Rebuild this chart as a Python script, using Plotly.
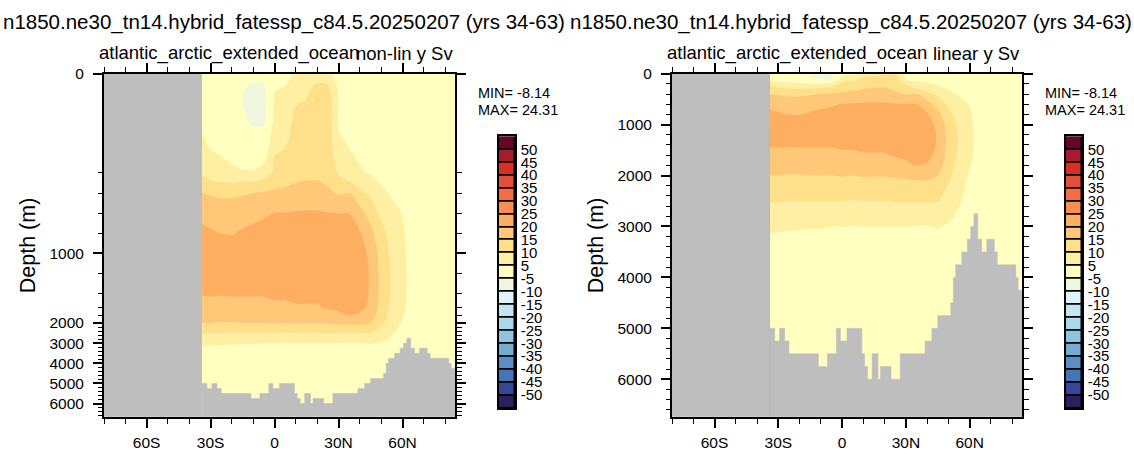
import numpy as np
import plotly.graph_objects as go

W, H = 1134, 456
FONT = "Liberation Sans, Arial, Helvetica, sans-serif"

title_text = "n1850.ne30_tn14.hybrid_fatessp_c84.5.20250207 (yrs 34-63)"
region_text = "atlantic_arctic_extended_ocean"
panel_tags = ["non-lin y Sv", "linear y Sv"]
min_text = "MIN= -8.14"
max_text = "MAX= 24.31"

# overturning streamfunction (Sv), one row per latitude, columns follow `depth`
lat = [-34, -30, -25, -20, -15, -10, -5, 0, 5, 10, 15, 20, 25, 30, 35, 40, 45,
       50, 55, 60, 65, 70, 75, 80, 85]
depth = [0, 25, 50, 100, 150, 200, 300, 400, 600, 800, 1000, 1200, 1400, 1600,
         1800, 2000, 2500, 3000, 3500, 4000, 5000, 6000, 6750]
psi_by_lat = [
    [2.0, 2.5, 3.0, 4.5, 6.0, 9.5, 12.0, 15.0, 19.0, 21.0, 22.0, 21.5, 20.3, 18.5, 16.5, 15.0, 10.2, 5.8, 3.0, 2.0, 1.0, 0.5, 0.5],
    [2.0, 2.5, 3.0, 3.5, 4.8, 7.5, 11.0, 14.5, 18.5, 20.5, 22.5, 22.0, 20.5, 18.5, 16.5, 15.0, 10.2, 5.6, 3.0, 2.0, 1.0, 0.5, 0.5],
    [2.0, 2.5, 3.0, 3.5, 4.5, 6.0, 10.5, 14.0, 18.0, 20.0, 22.5, 22.0, 20.3, 18.5, 16.5, 14.8, 10.0, 5.4, 3.0, 2.0, 1.0, 0.5, 0.5],
    [1.5, 2.0, 2.5, 3.0, 4.0, 5.5, 10.0, 14.0, 18.0, 19.8, 22.5, 22.5, 20.5, 18.5, 16.5, 14.8, 10.0, 5.3, 3.0, 2.0, 1.0, 0.5, 0.5],
    [-1.0, -3.5, -5.3, -3.5, 2.0, 5.5, 10.5, 14.5, 18.5, 20.5, 23.0, 23.0, 20.5, 18.5, 16.5, 15.0, 10.0, 5.2, 3.0, 2.0, 1.0, 0.5, 0.5],
    [-2.0, -6.5, -8.1, -6.0, 1.0, 5.5, 11.0, 15.0, 19.0, 21.0, 23.2, 23.0, 20.5, 18.5, 16.5, 15.0, 10.0, 5.2, 3.0, 2.0, 1.0, 0.5, 0.5],
    [-1.5, -5.5, -7.0, -5.5, 1.5, 7.5, 12.0, 15.5, 19.5, 21.5, 23.5, 23.0, 20.5, 18.5, 16.5, 15.0, 10.0, 5.0, 3.0, 2.0, 1.0, 0.5, 0.5],
    [3.0, 4.5, 5.5, 7.5, 9.5, 11.0, 13.5, 16.0, 20.2, 22.0, 23.8, 23.5, 21.0, 19.0, 17.0, 15.2, 10.0, 5.0, 3.0, 2.0, 1.0, 0.5, 0.5],
    [4.0, 5.0, 6.5, 8.5, 10.0, 11.5, 14.0, 16.5, 20.3, 22.5, 24.0, 23.5, 21.0, 19.0, 17.0, 15.0, 9.8, 4.9, 3.0, 2.0, 1.0, 0.5, 0.5],
    [5.5, 7.5, 9.5, 11.0, 12.0, 13.5, 15.0, 17.0, 20.5, 22.5, 24.2, 23.5, 21.5, 19.5, 17.0, 15.3, 10.0, 5.0, 3.0, 2.0, 1.0, 0.5, 0.5],
    [6.0, 8.5, 10.0, 12.0, 13.0, 13.5, 15.5, 17.5, 20.5, 23.0, 24.3, 23.5, 21.5, 19.5, 17.0, 15.2, 10.0, 5.0, 3.0, 2.0, 1.0, 0.5, 0.5],
    [6.5, 11.0, 15.2, 14.0, 13.0, 13.5, 15.5, 17.5, 20.5, 23.0, 24.31, 23.5, 21.5, 19.5, 17.0, 15.2, 10.0, 5.0, 3.0, 2.0, 1.0, 0.5, 0.5],
    [6.0, 10.5, 12.5, 13.0, 13.0, 13.5, 14.5, 16.0, 20.3, 22.8, 24.0, 23.5, 22.0, 20.5, 18.0, 15.5, 10.2, 5.0, 3.0, 2.0, 1.0, 0.5, 0.5],
    [3.0, 4.0, 4.5, 4.5, 6.0, 9.5, 12.0, 14.5, 20.1, 22.5, 24.0, 23.5, 22.5, 21.0, 19.0, 15.8, 10.2, 5.0, 3.0, 2.0, 1.0, 0.5, 0.5],
    [2.0, 3.0, 3.5, 4.0, 5.0, 6.5, 10.5, 15.0, 20.1, 21.5, 23.5, 23.5, 22.5, 21.5, 20.2, 16.0, 10.2, 4.8, 3.0, 2.0, 1.0, 0.5, 0.5],
    [1.5, 2.0, 2.5, 3.0, 4.0, 5.5, 8.0, 11.5, 17.0, 20.5, 22.5, 22.5, 22.0, 21.0, 19.5, 16.0, 10.2, 4.8, 3.0, 2.0, 1.0, 0.5, 0.5],
    [1.0, 1.5, 2.0, 3.0, 3.5, 4.5, 6.5, 9.0, 13.0, 16.5, 18.5, 19.5, 19.5, 19.0, 17.5, 15.0, 10.0, 5.2, 3.0, 2.0, 1.0, 0.5, 0.5],
    [0.5, 1.0, 1.5, 2.0, 2.5, 3.0, 4.7, 6.0, 9.0, 11.5, 13.0, 13.5, 13.5, 13.0, 12.0, 11.0, 8.0, 4.5, 2.5, 1.5, 1.0, 0.5, 0.5],
    [0.5, 0.5, 1.0, 1.5, 2.0, 2.5, 3.5, 4.5, 6.5, 8.0, 9.0, 9.5, 9.5, 9.0, 8.5, 7.5, 5.5, 3.5, 2.0, 1.5, 1.0, 0.5, 0.5],
    [0.5, 0.5, 0.5, 1.0, 1.5, 2.0, 2.5, 3.5, 4.8, 5.5, 5.8, 6.0, 6.0, 5.8, 5.3, 4.5, 3.0, 2.0, 1.5, 1.0, 0.5, 0.5, 0.5],
    [0.5, 0.5, 0.5, 1.0, 1.0, 1.5, 2.0, 2.5, 3.0, 3.2, 3.3, 3.3, 3.2, 3.0, 2.8, 2.5, 2.0, 1.5, 1.0, 1.0, 0.5, 0.5, 0.5],
    [0.5, 0.5, 0.5, 0.5, 0.5, 1.0, 1.0, 1.5, 1.5, 1.5, 1.5, 1.5, 1.5, 1.5, 1.5, 1.5, 1.0, 1.0, 0.5, 0.5, 0.5, 0.5, 0.5],
    [0.5, 0.5, 0.5, 0.5, 0.5, 0.5, 1.0, 1.0, 1.0, 1.0, 1.0, 1.0, 1.0, 1.0, 1.0, 1.0, 0.5, 0.5, 0.5, 0.5, 0.5, 0.5, 0.5],
    [0.5, 0.5, 0.5, 0.5, 0.5, 0.5, 0.5, 0.5, 0.5, 0.5, 0.5, 0.5, 0.5, 0.5, 0.5, 0.5, 0.5, 0.5, 0.5, 0.5, 0.5, 0.5, 0.5],
    [0.5, 0.5, 0.5, 0.5, 0.5, 0.5, 0.5, 0.5, 0.5, 0.5, 0.5, 0.5, 0.5, 0.5, 0.5, 0.5, 0.5, 0.5, 0.5, 0.5, 0.5, 0.5, 0.5],
]

# sea floor (m), step edges in latitude
bathy_edges = [-34, -31.7, -29.4, -27.0, -25.0, -11.1, -6.9, -2.7, -0.8, 2.3, 9.3,
               10.6, 12.0, 14.1, 16.9, 18.0, 23.0, 27.3, 39.0, 42.2, 45.0, 51.1,
               52.3, 53.4, 56.3, 58.9, 60.5, 62.0, 63.8, 65.6, 68.0, 71.6, 73.0,
               81.7, 82.8, 86]
bathy_depth = [5000, 5250, 5000, 5250, 5500, 5750, 5500, 5000, 5250, 5000, 5500,
               5750, 6000, 5500, 6000, 5750, 6000, 5500, 5250, 5000, 4750, 4500,
               4000, 3750, 3500, 3250, 3000, 2750, 3250, 3500, 3250, 3500, 3750,
               4000, 4250]

# label bar, bottom to top
box_colors = ["#2C1F5E", "#36479A", "#4575B4", "#5B8EC3", "#74ADD1", "#90C3DD",
              "#ABD9E9", "#C5E6F0", "#E0F3F8", "#EFF8DF", "#FFFFBF", "#FEEFA2",
              "#FEE08B", "#FEC878", "#FDAE61", "#F88E52", "#F46D43", "#E3503A",
              "#D73027", "#A51C2D", "#67042A"]
box_labels = ["-50", "-45", "-40", "-35", "-30", "-25", "-20", "-15", "-10", "-5",
              "5", "10", "15", "20", "25", "30", "35", "40", "45", "50"]

lat_ticks = [-60, -30, 0, 30, 60]
lat_ticktext = ["60S", "30S", "0", "30N", "60N"]
depth_ticks = [0, 1000, 2000, 3000, 4000, 5000, 6000]

# stretched depth axis of the left panel (depth -> offset from top, px)
warp_depth = [0, 200, 400, 600, 800, 1000, 1200, 1400, 1600, 1800, 2000, 3000, 4000, 5000, 6000, 6660]
warp_pos = [0, 101, 122, 143, 163, 183.3, 204, 224, 238.3, 246.3, 254.3, 275, 295.5, 316, 336.5, 350]


def warp(d):
    return np.interp(d, warp_depth, warp_pos)


def linear(d):
    return np.asarray(d, dtype=float)


# contour bands: -50..50 every 5, the two bands around zero share one colour
band_colors = box_colors[:11] + [box_colors[10]] + box_colors[11:]
nb = len(band_colors)
colorscale = []
for k, c in enumerate(band_colors):
    lo = max(0.0, (k - 0.5) / (nb - 1))
    hi = min(1.0, (k + 0.5) / (nb - 1))
    colorscale += [[lo, c], [hi, c]]

z = np.array(psi_by_lat).T

fig = go.Figure()

# plot-area boxes in pixels
panels = [dict(x=(104, 455), cb=(499, 515), tf=warp, ybot=6660, tag=panel_tags[0]),
          dict(x=(672, 1022), cb=(1066, 1082), tf=linear, ybot=6737, tag=panel_tags[1])]
PY = (66, 416)
CBY = (130, 407)


def fx(px):
    return px / W


def fy(py):
    return 1 - py / H


tick_font = dict(family=FONT, size=15.5, color="black")
minor_lat = [v for v in range(-80, 81, 10) if v not in lat_ticks]
minor_depth = [v for v in range(200, 6700, 200) if v not in depth_ticks]

annotations = []
for i, p in enumerate(panels):
    n = 2 * i + 1
    xa = "x" if n == 1 else "x%d" % n
    ya = "y" if n == 1 else "y%d" % n
    xb = "x%d" % (n + 1)
    yb = "y%d" % (n + 1)
    tf = p["tf"]

    fig.add_trace(go.Contour(
        x=lat, y=tf(depth), z=z, xaxis=xa, yaxis=ya,
        autocontour=False,
        contours=dict(start=-50, end=50, size=5, coloring="fill", showlines=False),
        colorscale=colorscale, showscale=False, line=dict(width=0),
        hoverinfo="skip",
    ))

    # land below the sea floor
    px_, py_ = [], []
    for j, d in enumerate(bathy_depth):
        px_ += [bathy_edges[j], bathy_edges[j + 1]]
        py_ += [d, d]
    px_ += [bathy_edges[-1], bathy_edges[0]]
    py_ += [p["ybot"] + 200, p["ybot"] + 200]
    fig.add_trace(go.Scatter(
        x=px_, y=tf(py_), xaxis=xa, yaxis=ya, mode="lines", fill="toself",
        fillcolor="#BEBEBE", line=dict(color="#BEBEBE", width=0.5),
        hoverinfo="skip", showlegend=False,
    ))

    # label bar
    fig.add_trace(go.Bar(
        x=[0] * len(box_colors), y=[1] * len(box_colors),
        base=list(range(len(box_colors))), width=1,
        marker=dict(color=box_colors, line=dict(color="black", width=1.5)),
        xaxis=xb, yaxis=yb, hoverinfo="skip", showlegend=False,
    ))

    axis_common = dict(showline=True, linecolor="black", linewidth=2, mirror="ticks",
                       ticks="outside", tickcolor="black", tickwidth=2, ticklen=9,
                       showgrid=False, zeroline=False, tickfont=tick_font)
    fig.layout[("xaxis" if n == 1 else "xaxis%d" % n)] = dict(
        axis_common, domain=[fx(p["x"][0]), fx(p["x"][1])], anchor=ya,
        range=[-80, 84.6], tickmode="array", tickvals=lat_ticks, ticktext=lat_ticktext,
        minor=dict(tickvals=minor_lat, ticklen=5, tickwidth=1.2, tickcolor="black", ticks="outside"),
        ticklabelstandoff=2,
    )
    fig.layout[("yaxis" if n == 1 else "yaxis%d" % n)] = dict(
        axis_common, domain=[fy(PY[1]), fy(PY[0])], anchor=xa,
        range=[float(tf(p["ybot"])), 0], tickmode="array",
        tickvals=list(tf(depth_ticks)), ticktext=[str(v) for v in depth_ticks],
        minor=dict(tickvals=list(tf(minor_depth)), ticklen=4.5, tickwidth=1.2,
                   tickcolor="black", ticks="outside"),
        ticklabelstandoff=6,
    )
    fig.layout["xaxis%d" % (n + 1)] = dict(
        domain=[fx(p["cb"][0]), fx(p["cb"][1])], anchor=yb, range=[-0.5, 0.5],
        showticklabels=False, ticks="", showgrid=False, zeroline=False,
        showline=True, linecolor="black", linewidth=1.5, mirror=True, fixedrange=True,
    )
    fig.layout["yaxis%d" % (n + 1)] = dict(
        domain=[fy(CBY[1]), fy(CBY[0])], anchor=xb, range=[0, len(box_colors)],
        side="right", tickmode="array", tickvals=list(range(1, len(box_colors))),
        ticktext=box_labels, ticks="", showgrid=False, zeroline=False,
        showline=True, linecolor="black", linewidth=1.5, mirror=True,
        tickfont=dict(family=FONT, size=15, color="black"), ticklabelstandoff=1,
    )

    cx = (p["x"][0] + p["x"][1]) / 2
    annotations += [
        dict(text=title_text, x=fx(cx + 4), y=fy(13), xanchor="center", yanchor="middle",
             font=dict(family=FONT, size=20.5, color="black")),
        dict(text=region_text, x=fx(p["x"][0] - 7), y=fy(45), xanchor="left", yanchor="middle",
             font=dict(family=FONT, size=18.5, color="black")),
        dict(text=p["tag"], x=fx(p["x"][1]), y=fy(45), xanchor="right", yanchor="middle",
             font=dict(family=FONT, size=18.5, color="black")),
        dict(text=min_text, x=fx(p["x"][1] + 21), y=fy(86), xanchor="left", yanchor="middle",
             font=dict(family=FONT, size=14.5, color="black")),
        dict(text=max_text, x=fx(p["x"][1] + 21), y=fy(103), xanchor="left", yanchor="middle",
             font=dict(family=FONT, size=14.5, color="black")),
        dict(text="Depth (m)", x=fx(p["x"][0] - 76), y=fy((PY[0] + PY[1]) / 2), textangle=-90,
             xanchor="center", yanchor="middle", font=dict(family=FONT, size=21.5, color="black")),
    ]

for a in annotations:
    a.update(xref="paper", yref="paper", showarrow=False)

fig.update_layout(
    width=W, height=H, margin=dict(l=0, r=0, t=0, b=0),
    paper_bgcolor="white", plot_bgcolor="#BEBEBE", showlegend=False,
    annotations=annotations, bargap=0,
)

# pin the figure to the page corner so the page matches the 1134x456 window
pin = ("document.body.style.margin='0';document.body.style.padding='0';"
       "var gd=document.getElementById('{plot_id}');"
       "gd.style.position='absolute';gd.style.left='0px';gd.style.top='0px';")
fig.write_html("out.html", post_script=pin, config={"displayModeBar": False})
